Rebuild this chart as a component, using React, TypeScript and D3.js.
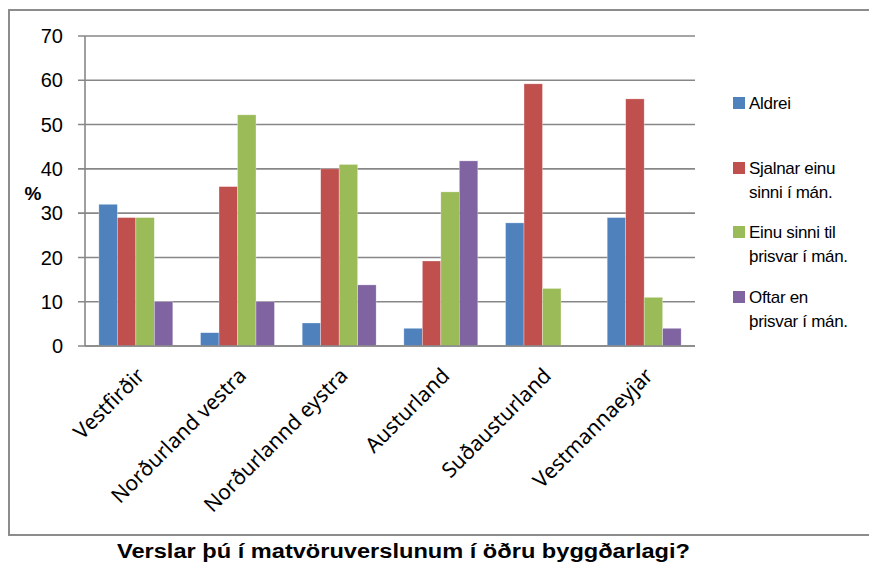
import { scaleLinear, scaleBand } from "d3";

const categories = [
  "Vestfirðir",
  "Norðurland vestra",
  "Norðurlannd eystra",
  "Austurland",
  "Suðausturland",
  "Vestmannaeyjar",
];

const seriesNames = ["Aldrei", "Sjalnar einu sinni í mán.", "Einu sinni til þrisvar í mán.", "Oftar en þrisvar í mán."];
const legendLines = [["Aldrei"], ["Sjalnar einu", "sinni í mán."], ["Einu sinni til", "þrisvar í mán."], ["Oftar en", "þrisvar í mán."]];
const colors = ["#4F81BD", "#C0504D", "#9BBB59", "#8064A2"];

const aldrei = [32, 3, 5.2, 4, 27.8, 29];
const sjaldnar = [29, 36, 40, 19.2, 59.2, 55.8];
const einuTil = [29, 52.2, 41, 34.8, 13, 11];
const oftar = [10, 10, 13.8, 41.8, 0, 4];
const values = [aldrei, sjaldnar, einuTil, oftar];

const yTicks = [0, 10, 20, 30, 40, 50, 60, 70];
const title = "Verslar þú í matvöruverslunum í öðru byggðarlagi?";

const W = 869;
const H = 567;
const plot = { left: 85, right: 695, top: 36, bottom: 346 };

export default function App() {
  const y = scaleLinear().domain([0, 70]).range([plot.bottom, plot.top]);
  // excel-ish gap width of 150%
  const pi = 1.5 / 5.5;
  const x0 = scaleBand<string>()
    .domain(categories)
    .range([plot.left, plot.right])
    .paddingInner(pi)
    .paddingOuter(pi / 2);
  const x1 = scaleBand<string>().domain(seriesNames).range([0, x0.bandwidth()]);

  const legendY = [103, 168, 232, 297];

  return (
    <div style={{ position: "absolute", left: 0, top: 0 }}>
      <svg width={W} height={H} viewBox={`0 0 ${W} ${H}`} style={{ display: "block", background: "#fff" }}>
        {/* outer frame */}
        <rect x={9} y={10} width={880} height={525} fill="none" stroke="#8c8c8c" strokeWidth={2} />

        {/* gridlines + y labels */}
        {yTicks.map((t) => (
          <g key={t}>
            <line x1={plot.left - 7} x2={plot.right} y1={y(t)} y2={y(t)} stroke="#878787" strokeWidth={1.6} />
            <text
              x={63}
              y={y(t)}
              dy="0.36em"
              textAnchor="end"
              fontFamily="Liberation Sans, Arial, sans-serif"
              fontSize={20}
              fill="#000"
            >
              {t}
            </text>
          </g>
        ))}
        <line x1={plot.left} x2={plot.left} y1={plot.top} y2={plot.bottom} stroke="#878787" strokeWidth={1.6} />

        <text x={33} y={193} dy="0.36em" textAnchor="middle" fontFamily="Liberation Sans, Arial, sans-serif" fontWeight="bold" fontSize={19}>
          %
        </text>

        {/* bars */}
        {categories.map((c, ci) => (
          <g key={c} transform={`translate(${x0(c)},0)`}>
            {seriesNames.map((s, si) => {
              const v = values[si][ci];
              if (v <= 0) return null;
              return (
                <rect
                  key={s}
                  x={x1(s)}
                  y={y(v)}
                  width={x1.bandwidth()}
                  height={y(0) - y(v)}
                  fill={colors[si]}
                  stroke="#ffffff"
                  strokeOpacity={0.5}
                  strokeWidth={0.6}
                />
              );
            })}
          </g>
        ))}
        <line x1={plot.left} x2={plot.right} y1={plot.bottom} y2={plot.bottom} stroke="#878787" strokeWidth={1.6} />

        {/* category labels */}
        {categories.map((c) => {
          const cx = (x0(c) ?? 0) + x0.bandwidth() / 2;
          return (
            <text
              key={c}
              transform={`translate(${cx + 10},${377}) rotate(-45)`}
              textAnchor="end"
              fontFamily="Noto Sans, Open Sans, sans-serif"
              fontSize={21}
              fill="#000"
            >
              {c}
            </text>
          );
        })}

        {/* legend */}
        {legendLines.map((lines, i) => (
          <g key={i}>
            <rect x={733} y={legendY[i] - 6} width={12} height={12} fill={colors[i]} />
            {lines.map((ln, li) => (
              <text
                key={li}
                x={749}
                y={legendY[i] + li * 24}
                dy="0.36em"
                fontFamily="Liberation Sans, Arial, sans-serif"
                fontSize={17}
                letterSpacing={-0.3}
                fill="#000"
              >
                {ln}
              </text>
            ))}
          </g>
        ))}

        {/* title */}
        <text
          x={(117 + 690) / 2}
          y={558}
          textAnchor="middle"
          fontFamily="Liberation Sans, Arial, sans-serif"
          fontWeight="bold"
          fontSize={20}
          textLength={573}
          lengthAdjust="spacingAndGlyphs"
          fill="#000"
        >
          {title}
        </text>
      </svg>
    </div>
  );
}
